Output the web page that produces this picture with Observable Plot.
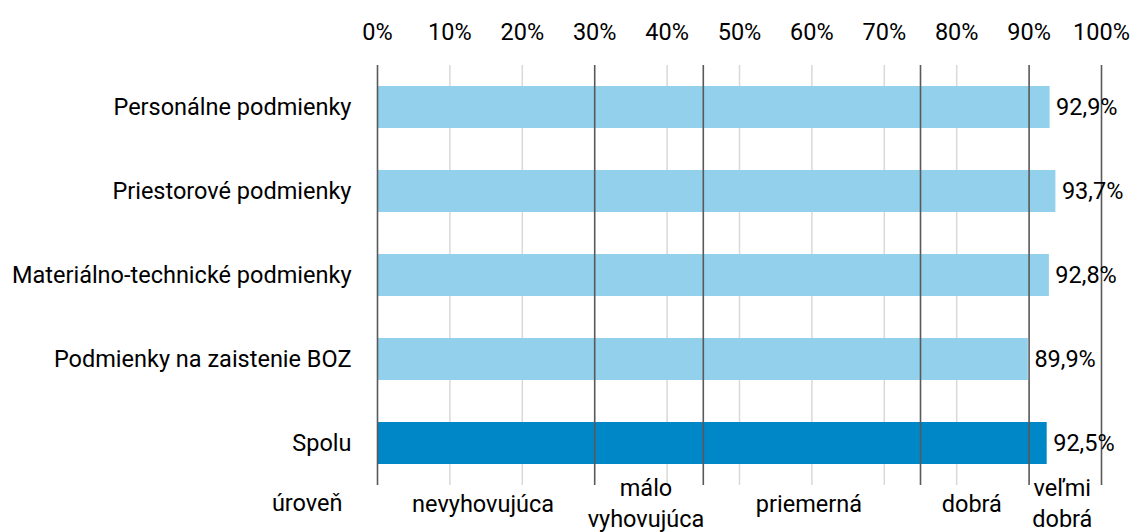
<!DOCTYPE html>
<html>
<head>
<meta charset="utf-8">
<script src="https://cdn.jsdelivr.net/npm/d3@7"></script>
<script src="https://cdn.jsdelivr.net/npm/@observablehq/plot@0.6"></script>
<style>
  html, body { margin: 0; padding: 0; background: #fff; }
  #chart { width: 1134px; height: 532px; }
</style>
</head>
<body>
<div id="chart"></div>
<script>
const categories = ["Personálne podmienky", "Priestorové podmienky", "Materiálno-technické podmienky", "Podmienky na zaistenie BOZ", "Spolu"];
const values = [92.9, 93.7, 92.8, 89.9, 92.5];
const totalCategory = "Spolu";
const tickValues = [0, 10, 20, 30, 40, 50, 60, 70, 80, 90, 100];
const levelBounds = [0, 30, 45, 75, 90, 100];
const levelNames = ["nevyhovujúca", "málo\nvyhovujúca", "priemerná", "dobrá", "veľmi\ndobrá"];
const levelTitle = "úroveň";

const bars = categories.map((c, i) => ({category: c, value: values[i], total: c === totalCategory}));
const levels = levelNames.map((n, i) => ({name: n, mid: (levelBounds[i] + levelBounds[i + 1]) / 2}));
const lightTicks = tickValues.filter(t => !levelBounds.includes(t));
const fmt = v => v.toFixed(1).replace(".", ",") + "%";

const FS = 23.5;
const chart = Plot.plot({
  width: 1134,
  height: 532,
  marginLeft: 377,
  marginRight: 33,
  marginTop: 65,
  marginBottom: 47,
  style: {fontFamily: "Roboto, sans-serif", fontSize: FS + "px", color: "#000", background: "#fff"},
  x: {domain: [0, 100], label: null},
  y: {domain: categories, paddingInner: 0.5, paddingOuter: 0.25, label: null},
  marks: [
    Plot.ruleX(lightTicks, {stroke: "#d9d9d9", strokeWidth: 1.5}),
    Plot.barX(bars, {x: "value", y: "category", fill: d => d.total ? "#0087c7" : "#92d0eb"}),
    Plot.ruleX(levelBounds, {stroke: "#595959", strokeWidth: 1.6}),
    Plot.text(bars, {x: "value", y: "category", text: d => fmt(d.value), textAnchor: "start", dx: 6, fontSize: FS, fill: "#000"}),
    Plot.axisX({anchor: "top", ticks: tickValues, tickSize: 0, tickPadding: 26, tickFormat: d => d + "%", fontSize: FS, label: null}),
    Plot.axisY({tickSize: 0, tickPadding: 26, fontSize: FS, label: null}),
    Plot.text(levels, {x: "mid", text: "name", frameAnchor: "bottom", lineAnchor: "middle", dx: -3, dy: 16, lineHeight: 1.33, fontSize: FS, fill: "#000"}),
    Plot.text([levelTitle], {x: 0, text: d => d, frameAnchor: "bottom", lineAnchor: "middle", textAnchor: "end", dx: -35, dy: 18, fontSize: FS, fill: "#000"})
  ]
});
document.getElementById("chart").appendChild(chart);
</script>
</body>
</html>
